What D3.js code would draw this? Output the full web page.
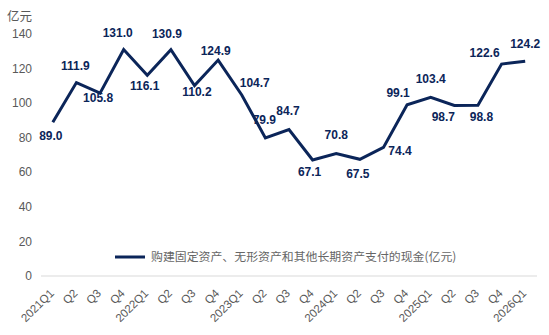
<!DOCTYPE html>
<html><head><meta charset="utf-8">
<script src="https://cdn.jsdelivr.net/npm/d3@7"></script>
<style>
body{margin:0;background:#fff;}
svg{display:block;font-family:"Liberation Sans",Arial,sans-serif;}
</style></head>
<body><svg id="c" width="549" height="335"></svg>
<script>
const categories = ["2021Q1","Q2","Q3","Q4","2022Q1","Q2","Q3","Q4","2023Q1","Q2","Q3","Q4","2024Q1","Q2","Q3","Q4","2025Q1","Q2","Q3","Q4","2026Q1"];
const values = [89.0,111.9,105.8,131.0,116.1,130.9,110.2,124.9,104.7,79.9,84.7,67.1,70.8,67.5,74.4,99.1,103.4,98.7,98.8,122.6,124.2];
const yTicks = [0,20,40,60,80,100,120,140];
const seriesName = "购建固定资产、无形资产和其他长期资产支付的现金(亿元)";
const unitLabel = "亿元";

// label offsets from each point (styling only): [dx, dy] to label centre
const labelOffsets = [[-2,14],[-1,-16.5],[-2,5],[-6,-16.5],[-2.6,10],[-4,-15.5],[2.4,6],[-2.5,-9],
  [13,-12],[-1,-18],[-1,-19],[-3,12],[0,-19],[-2,14],[16.5,3.6],[-9,-11.4],[0,-18],[-11,11.3],[3.5,11.5],[-17,-11],[0,-18]];

const svg = d3.select("#c");
const lineColor = "#0b2559";
const x = d3.scaleBand().domain(d3.range(categories.length)).range([41,537]);
const y = d3.scaleLinear().domain([0,140]).range([276,34]);
const cx = i => x(i) + x.bandwidth()/2;

// baseline
svg.append("line").attr("x1",41).attr("x2",537).attr("y1",y(0)).attr("y2",y(0))
  .attr("stroke","#d9d9d9").attr("stroke-width",1);

// y ticks
svg.append("g").selectAll("text").data(yTicks).join("text")
  .attr("x",32).attr("y",d=>y(d)).attr("dy","0.35em").attr("text-anchor","end")
  .attr("font-size",12).attr("fill","#595959").text(d=>d);

svg.append("text").attr("x",7).attr("y",21).attr("font-size",12.5).attr("fill","#595959")
  .attr("font-family","Noto Sans CJK SC").text(unitLabel);

// x ticks
svg.append("g").selectAll("text").data(categories).join("text")
  .attr("transform",(d,i)=>`translate(${cx(i)-1},${y(0)+15}) rotate(-45)`)
  .attr("text-anchor","end").attr("dy","0.35em")
  .attr("font-size",11.5).attr("fill","#595959").text(d=>d);

// line
const line = d3.line().x((d,i)=>cx(i)).y(d=>y(d));
svg.append("path").datum(values).attr("d",line).attr("fill","none")
  .attr("stroke",lineColor).attr("stroke-width",3).attr("stroke-linejoin","miter");

// labels
svg.append("g").selectAll("text").data(values).join("text")
  .attr("x",(d,i)=>cx(i)+labelOffsets[i][0])
  .attr("y",(d,i)=>y(d)+labelOffsets[i][1])
  .attr("dy","0.35em")
  .attr("text-anchor","middle").attr("font-size",12).attr("font-weight","bold")
  .attr("fill","#0b2559").text(d=>d.toFixed(1));

// legend
svg.append("line").attr("x1",115).attr("x2",145).attr("y1",257).attr("y2",257)
  .attr("stroke",lineColor).attr("stroke-width",3);
svg.append("text").attr("x",151).attr("y",257).attr("dy","0.35em")
  .attr("font-size",11.9).attr("fill","#666666").attr("font-family","Noto Sans CJK SC")
  .text(seriesName);
</script></body></html>
